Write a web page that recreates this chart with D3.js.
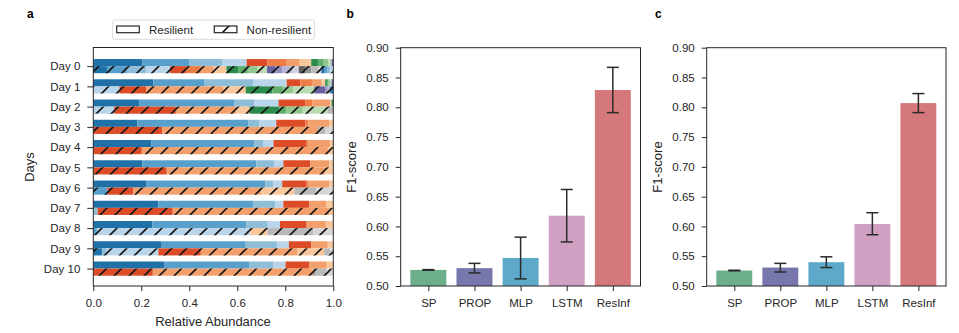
<!DOCTYPE html>
<html>
<head>
<meta charset="utf-8">
<script src="https://cdn.jsdelivr.net/npm/d3@7"></script>
<style>
body { margin: 0; background: #fff; }
svg { font-family: "Liberation Sans", Arial, sans-serif; }
.axis line { stroke: #262626; }
.axis text { fill: #262626; font-size: 11.5px; }
.label { fill: #262626; font-size: 13px; }
.panel { fill: #000; font-size: 12px; font-weight: bold; }
</style>
</head>
<body>
<svg id="figure" width="959" height="333"></svg>
<script>
const days = d3.range(11).map(d => `Day ${d}`);

// tab20c-like colours, taxon i uses colour i % 20
const taxonColors = [
    '#2171a9', '#58a0cb', '#8ebdd8', '#bad4e9',
    '#dc4c27', '#ee7c45', '#f39f6c', '#f9c79c',
    '#2a8b4b', '#5fae6b', '#92c68f', '#badcb5',
    '#6a61a3', '#968fc1', '#b6b5d6', '#d4d4e7',
    '#606060', '#939393', '#b9b9b9', '#d6d6d6'
];

// relative abundance per taxon, one row per day
const resilient = [
    [.205, .194, .140, .100, .087, .080, .054, .048, .028, .021, .022, .014, .007],
    [.250, .214, .201, .141, .057, .048, .041, .014, .007, .007, .007, .006, .007],
    [.191, .398, .083, .100, .112, .028, .075, .006, .007],
    [.184, .463, .046, .069, .122, .012, .087, .017],
    [.241, .429, .037, .044, .136, .010, .090, .013],
    [.205, .474, .076, .037, .112, 0, .079, .017],
    [.220, .498, .033, .036, .102, .008, .086, .017],
    [.271, .397, .091, .033, .108, 0, .072, .028],
    [.246, .391, .090, .051, .111, 0, .080, .031],
    [.282, .353, .130, .050, .093, 0, .069, .023],
    [.295, .354, .102, .050, .100, 0, .072, .027]
];

const nonResilient = [
    [.060, .080, .080, .100, .066, .065, .051, .053, .048, .041, .041, .039, .035, .028, .041, .028, .028, .024, .028, .014, .014, .010, .014, .012],
    [0, 0, 0, .109, .111, 0, .321, .094, .111, .044, .044, .087, .046, .010, .010, 0, 0, 0, 0, 0, .013],
    [0, 0, 0, .087, .257, 0, .252, .055, .125, .028, .069, .104, 0, 0, 0, 0, 0, 0, .023],
    [0, 0, 0, 0, .288, 0, .648, 0, 0, 0, 0, 0, 0, 0, 0, 0, 0, 0, .032, .032],
    [0, 0, 0, 0, .202, 0, .779, .019],
    [0, 0, 0, 0, .306, 0, .661, .033],
    [0, .059, 0, 0, .108, 0, .533, .138, 0, 0, 0, 0, 0, 0, 0, 0, 0, 0, .090, .072],
    [0, 0, .018, 0, .313, 0, .653, .016],
    [0, .015, 0, .639, 0, 0, 0, .071, 0, 0, 0, 0, 0, 0, 0, 0, 0, 0, .192, .083],
    [.036, 0, .018, .217, .177, 0, .403, .111, 0, 0, 0, 0, 0, 0, 0, 0, 0, 0, .024, .014],
    [0, 0, 0, 0, .248, 0, .669, 0, 0, 0, 0, 0, 0, 0, 0, 0, 0, .008, .047, .028]
];

const abundanceTicks = [0, 0.2, 0.4, 0.6, 0.8, 1.0];

const methods = ['SP', 'PROP', 'MLP', 'LSTM', 'ResInf'];
const methodColors = ['#6daf8a', '#7877ad', '#5ea9c9', '#cfa0c1', '#d5787c'];
const scoreTicks = [0.50, 0.55, 0.60, 0.65, 0.70, 0.75, 0.80, 0.85, 0.90];

const f1B = [0.527, 0.530, 0.547, 0.618, 0.829];
const errB = [[0.5265, 0.5275], [0.522, 0.538], [0.512, 0.582], [0.574, 0.662], [0.791, 0.867]];
const f1C = [0.526, 0.531, 0.540, 0.604, 0.807];
const errC = [[0.5255, 0.5265], [0.5235, 0.538], [0.531, 0.549], [0.586, 0.623], [0.791, 0.823]];

const ink = '#262626';
const svg = d3.select('#figure');

svg.append('defs')
    .append('pattern')
    .attr('id', 'hatch')
    .attr('patternUnits', 'userSpaceOnUse')
    .attr('width', 15)
    .attr('height', 15)
    .append('path')
    .attr('d', 'M0,15 L15,0 M-4,4 L4,-4 M11,19 L19,11')
    .attr('stroke', '#151515')
    .attr('stroke-width', 1.6);

function stack (row) {
    let acc = 0;
    return row.map((v, i) => {
        const seg = {x0: acc, x1: acc + v, color: taxonColors[i % 20]};
        acc += v;
        return seg;
    }).filter(s => s.x1 > s.x0);
}

// PANEL A

const xA = d3.scaleLinear().domain([0, 1]).range([93.3, 333.3]);
const yA = d3.scaleLinear().domain([-0.92, 10.86]).range([47.5, 286]);
const barH = 0.35;

const gA = svg.append('g');

const rows = [];
days.forEach((day, d) => {
    rows.push({day: d, top: true, segs: stack(resilient[d])});
    rows.push({day: d, top: false, segs: stack(nonResilient[d])});
});

const rowG = gA.selectAll('.abRow')
    .data(rows)
    .enter()
    .append('g')
    .attr('class', 'abRow');

rowG.selectAll('rect')
    .data(r => r.segs.map(s => ({...s, day: r.day, top: r.top})))
    .enter()
    .append('rect')
    .attr('x', s => xA(s.x0))
    .attr('width', s => xA(s.x1) - xA(s.x0))
    .attr('y', s => s.top ? yA(s.day - barH) : yA(s.day))
    .attr('height', s => yA(s.day) - yA(s.day - barH))
    .attr('fill', s => s.color);

rowG.filter(r => !r.top)
    .append('rect')
    .attr('x', xA(0))
    .attr('width', xA(1) - xA(0))
    .attr('y', r => yA(r.day))
    .attr('height', r => yA(r.day) - yA(r.day - barH))
    .attr('fill', 'url(#hatch)');

gA.append('g')
    .attr('class', 'axis')
    .attr('transform', `translate(0,${yA.range()[1]})`)
    .call(d3.axisBottom(xA).tickValues(abundanceTicks).tickFormat(d3.format('.1f')).tickSize(5).tickPadding(8))
    .call(g => g.select('.domain').remove());

gA.append('g')
    .attr('class', 'axis')
    .attr('transform', `translate(${xA.range()[0]},0)`)
    .call(d3.axisLeft(yA).tickValues(d3.range(11)).tickFormat(i => days[i]).tickSize(6).tickPadding(7))
    .call(g => g.select('.domain').remove());

gA.append('rect')
    .attr('x', xA.range()[0])
    .attr('y', yA.range()[0])
    .attr('width', xA.range()[1] - xA.range()[0])
    .attr('height', yA.range()[1] - yA.range()[0])
    .attr('fill', 'none')
    .attr('stroke', ink);

gA.append('text')
    .attr('class', 'label')
    .attr('text-anchor', 'middle')
    .attr('x', 213)
    .attr('y', 326)
    .text('Relative Abundance');

gA.append('text')
    .attr('class', 'label')
    .attr('text-anchor', 'middle')
    .attr('transform', 'translate(34,167) rotate(-90)')
    .text('Days');

// legend
const legend = gA.append('g');
legend.append('rect')
    .attr('x', 112.7).attr('y', 20).attr('width', 201.6).attr('height', 19.3)
    .attr('rx', 2)
    .attr('fill', '#fff')
    .attr('stroke', '#d0d0d0')
    .attr('stroke-width', 0.8);
const legendItems = [{label: 'Resilient', x: 116.7, fill: '#fff'}, {label: 'Non-resilient', x: 214.3, fill: 'url(#hatch)'}];
legendItems.forEach(item => {
    legend.append('rect')
        .attr('x', item.x).attr('y', 26).attr('width', 22.6).attr('height', 6.7)
        .attr('fill', item.fill)
        .attr('stroke', ink)
        .attr('stroke-width', 1.2);
    legend.append('text')
        .attr('x', item.x + 32.3)
        .attr('y', 33.5)
        .attr('fill', ink)
        .attr('font-size', '11.5px')
        .text(item.label);
});

// PANELS B AND C

function drawScores (left, right, values, errors) {
    const g = svg.append('g');
    const x = d3.scaleLinear().domain([-0.6, 4.6]).range([left, right]);
    const y = d3.scaleLinear().domain([0.5, 0.9]).range([286, 47.7]);
    const bw = 0.78;

    g.selectAll('.bar')
        .data(values)
        .enter()
        .append('rect')
        .attr('class', 'bar')
        .attr('x', (v, i) => x(i - bw / 2))
        .attr('width', x(bw) - x(0))
        .attr('y', v => y(v))
        .attr('height', v => y(0.5) - y(v))
        .attr('fill', (v, i) => methodColors[i]);

    const err = g.selectAll('.err')
        .data(errors)
        .enter()
        .append('g')
        .attr('class', 'err')
        .attr('stroke', '#2b2b2b')
        .attr('stroke-width', 1.5);
    err.append('line')
        .attr('x1', (e, i) => x(i)).attr('x2', (e, i) => x(i))
        .attr('y1', e => y(e[0])).attr('y2', e => y(e[1]));
    err.selectAll('.cap')
        .data((e, i) => e.map(v => ({v, i})))
        .enter()
        .append('line')
        .attr('class', 'cap')
        .attr('x1', c => x(c.i) - 6).attr('x2', c => x(c.i) + 6)
        .attr('y1', c => y(c.v)).attr('y2', c => y(c.v));

    g.append('g')
        .attr('class', 'axis')
        .attr('transform', `translate(0,${y(0.5)})`)
        .call(d3.axisBottom(x).tickValues(d3.range(5)).tickFormat(i => methods[i]).tickSize(5).tickPadding(8))
        .call(a => a.select('.domain').remove());

    g.append('g')
        .attr('class', 'axis')
        .attr('transform', `translate(${left},0)`)
        .call(d3.axisLeft(y).tickValues(scoreTicks).tickFormat(d3.format('.2f')).tickSize(5).tickPadding(7))
        .call(a => a.select('.domain').remove());

    g.append('rect')
        .attr('x', left)
        .attr('y', y(0.9))
        .attr('width', right - left)
        .attr('height', y(0.5) - y(0.9))
        .attr('fill', 'none')
        .attr('stroke', ink);

    g.append('text')
        .attr('class', 'label')
        .attr('text-anchor', 'middle')
        .attr('transform', `translate(${left - 45},167) rotate(-90)`)
        .text('F1-score');
}

drawScores(400.7, 640.5, f1B, errB);
drawScores(706.7, 946, f1C, errC);

// PANEL LETTERS

svg.selectAll('.panel')
    .data([{t: 'a', x: 27}, {t: 'b', x: 346.5}, {t: 'c', x: 655}])
    .enter()
    .append('text')
    .attr('class', 'panel')
    .attr('x', d => d.x)
    .attr('y', 17.5)
    .text(d => d.t);
</script>
</body>
</html>
